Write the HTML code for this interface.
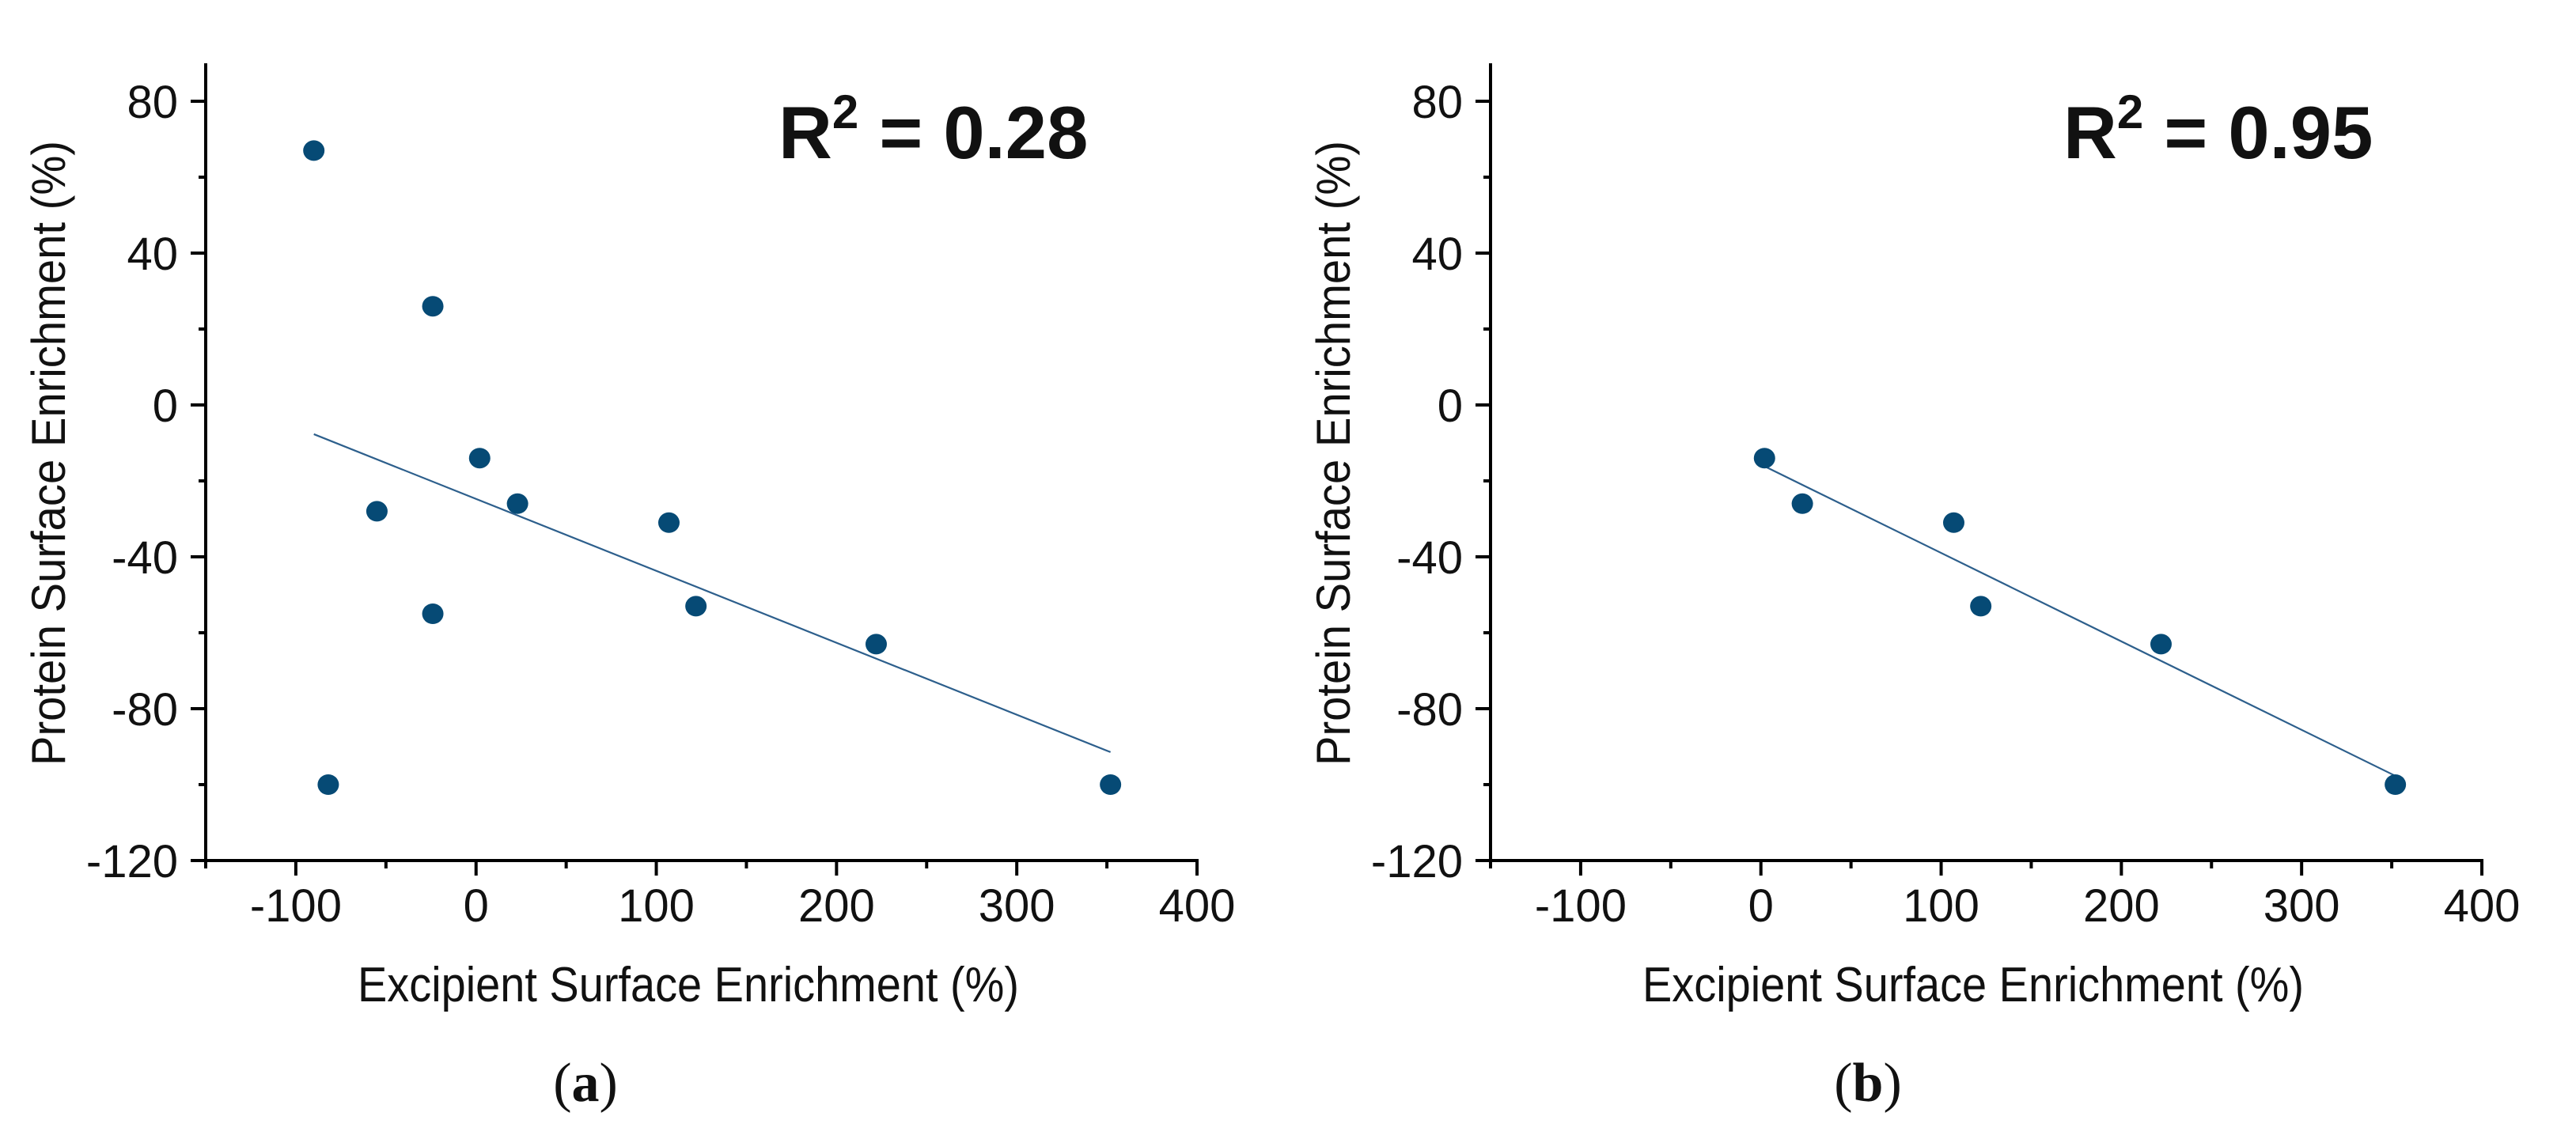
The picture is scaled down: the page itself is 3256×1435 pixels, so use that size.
<!DOCTYPE html>
<html><head><meta charset="utf-8">
<style>
html,body{margin:0;padding:0;background:#fff;}
svg{display:block;}
text{font-family:"Liberation Sans",Arial,sans-serif;fill:#111;}
</style></head>
<body>
<svg id="fig" width="3256" height="1435" viewBox="0 0 3256 1435" xmlns="http://www.w3.org/2000/svg"></svg>
<script>
const xTicks = [-100, 0, 100, 200, 300, 400];
const yTicks = [-120, -80, -40, 0, 40, 80];
const aX = [-90, -82, -55, -24, -24, 2, 23, 107, 122, 222, 352];
const aY = [67, -100, -28, 26, -55, -14, -26, -31, -53, -63, -100];
const bX = [2, 23, 107, 122, 222, 352];
const bY = [-14, -26, -31, -53, -63, -100];
const r2Labels = ["0.28", "0.95"];
const panelLabels = ["a", "b"];

const NS = "http://www.w3.org/2000/svg";
const svg = document.getElementById('fig');
function mk(tag, attrs, parent){
  const e = document.createElementNS(NS, tag);
  for (const k in attrs) e.setAttribute(k, attrs[k]);
  (parent||svg).appendChild(e);
  return e;
}
function fit(xs, ys){
  const n = xs.length; let sx=0, sy=0, sxx=0, sxy=0;
  for (let i=0;i<n;i++){sx+=xs[i];sy+=ys[i];sxx+=xs[i]*xs[i];sxy+=xs[i]*ys[i];}
  const m = (n*sxy - sx*sy)/(n*sxx - sx*sx);
  return {m:m, b:(sy - m*sx)/n};
}
function panel(ox, xs, ys, r2, lab, labOff){
  const x0 = ox, x1 = ox + 1253, yb = 1088, yt = 80;
  const sx = v => x0 + (v + 150) * (x1 - x0) / 550;
  const sy = v => yb - (v + 120) * (yb - yt) / 210;
  const g = mk('g', {});
  
  
  const axes = mk('g', {stroke:'#000', 'stroke-width':4, fill:'none'}, g);
  
  
  mk('line', {x1:x0, y1:yt, x2:x0, y2:yb+2}, axes);
  mk('line', {x1:x0-2, y1:yb, x2:x1+2, y2:yb}, axes);
  for (let v=-150; v<=400; v+=50){
    const major = xTicks.indexOf(v) >= 0;
    mk('line', {x1:sx(v), y1:yb, x2:sx(v), y2:yb + (major?19:10)}, axes);
  }
  for (let v=-120; v<=80; v+=20){
    const major = yTicks.indexOf(v) >= 0;
    mk('line', {x1:x0, y1:sy(v), x2:x0 - (major?19:9), y2:sy(v)}, axes);
  }
  xTicks.forEach(v => {
    const t = mk('text', {x:sx(v), y:1165, 'font-size':58, 'text-anchor':'middle'}, g);
    t.textContent = v;
    
    
  });
  yTicks.forEach(v => {
    const t = mk('text', {x:x0-35, y:sy(v)+21, 'font-size':58, 'text-anchor':'end'}, g);
    t.textContent = v;
    
    
  });
  const xt = mk('text', {x:ox+610, y:1266, 'font-size':62, 'text-anchor':'middle', textLength:836, lengthAdjust:'spacingAndGlyphs'}, g);
  xt.textContent = 'Excipient Surface Enrichment (%)';
  
  
  const yt2 = mk('text', {x:0, y:0, 'font-size':60, 'text-anchor':'middle', textLength:790, lengthAdjust:'spacingAndGlyphs', transform:'translate('+(ox-178)+',573) rotate(-90)'}, g);
  yt2.textContent = 'Protein Surface Enrichment (%)';
  
  
  const f = fit(xs, ys);
  const xmin = Math.min(...xs), xmax = Math.max(...xs);
  const ln = mk('line', {x1:sx(xmin), y1:sy(f.m*xmin+f.b), x2:sx(xmax), y2:sy(f.m*xmax+f.b), stroke:'#2d5f8c', 'stroke-width':2.2}, g);
  
  
  xs.forEach((v,i) => {
    const c = mk('ellipse', {cx:sx(v), cy:sy(ys[i]), rx:13.5, ry:13, fill:'#064a75'}, g);
    
    
  });
  const r = mk('text', {x:ox+724, y:200, 'font-size':94, 'font-weight':'bold'}, g);
  
  
  r.innerHTML = 'R<tspan dy="-38" font-size="60">2</tspan><tspan dy="38"> = ' + r2 + '</tspan>';
  const p = mk('text', {x:ox+labOff, y:1392, 'font-size':70, 'text-anchor':'middle'}, g);
  
  
  p.setAttribute('style', 'font-family:"Liberation Serif",serif');
  p.innerHTML = '(<tspan font-weight="bold">' + lab + '</tspan>)';
}
panel(260, aX, aY, r2Labels[0], panelLabels[0], 480);
panel(1884, bX, bY, r2Labels[1], panelLabels[1], 477);
</script>
</body></html>
